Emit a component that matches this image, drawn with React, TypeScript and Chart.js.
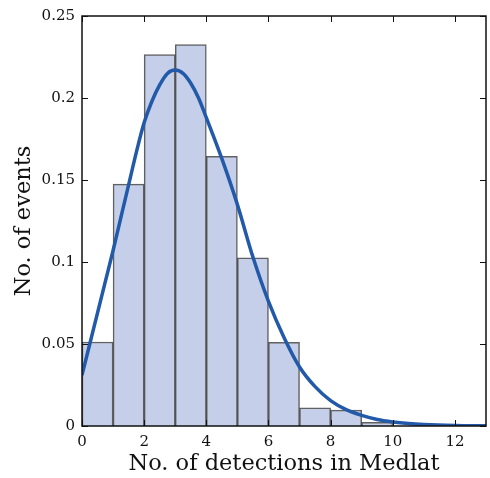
import React, { useEffect, useRef } from "react";
import { Chart, registerables } from "chart.js";

Chart.register(...registerables);

// Histogram bins (left edges) and normalized counts
const binStarts = [0, 1, 2, 3, 4, 5, 6, 7, 8, 9, 10, 11, 12];
const binValues = [0.0512, 0.1475, 0.2265, 0.2326, 0.1644, 0.1025, 0.0510, 0.0111, 0.0097, 0.0022, 0, 0, 0];

// Fitted curve
const curveX = [0, 0.25, 0.5, 0.75, 1, 1.25, 1.5, 1.75, 2, 2.25, 2.5, 2.75, 3, 3.25, 3.5, 3.75, 4, 4.5, 5, 5.5, 6, 6.5, 7, 7.5, 8, 8.5, 9, 9.5, 10, 10.5, 11, 12, 13];
const curveY = [0.031, 0.05, 0.069, 0.088, 0.107, 0.127, 0.147, 0.167, 0.185, 0.198, 0.208, 0.215, 0.217, 0.215, 0.209, 0.2, 0.188, 0.163, 0.135, 0.103, 0.076, 0.054, 0.036, 0.024, 0.0155, 0.01, 0.0065, 0.004, 0.0025, 0.0015, 0.0009, 0.0003, 0.0001];

const xTicks = [0, 2, 4, 6, 8, 10, 12];
const yTicks = [0, 0.05, 0.1, 0.15, 0.2, 0.25];

const FONT = "'DejaVu Serif', serif";

const frameTicks = {
  id: "frameTicks",
  afterDraw(chart: any) {
    const { ctx, chartArea: a, scales } = chart;
    ctx.save();
    ctx.strokeStyle = "#111";
    ctx.lineWidth = 1.5;
    ctx.strokeRect(a.left, a.top, a.right - a.left, a.bottom - a.top);
    ctx.lineWidth = 1;
    const L = 6;
    ctx.beginPath();
    for (const v of xTicks) {
      const px = Math.round(scales.x.getPixelForValue(v)) + 0.5;
      ctx.moveTo(px, a.bottom);
      ctx.lineTo(px, a.bottom - L);
      ctx.moveTo(px, a.top);
      ctx.lineTo(px, a.top + L);
    }
    for (const v of yTicks) {
      const py = Math.round(scales.y.getPixelForValue(v)) + 0.5;
      ctx.moveTo(a.left, py);
      ctx.lineTo(a.left + L, py);
      ctx.moveTo(a.right, py);
      ctx.lineTo(a.right - L, py);
    }
    ctx.stroke();
    ctx.restore();
  },
};

export default function App() {
  const ref = useRef<HTMLCanvasElement | null>(null);
  useEffect(() => {
    if (!ref.current) return;
    const chart = new Chart(ref.current, {
      type: "bar",
      data: {
        datasets: [
          {
            type: "line",
            data: curveX.map((x, i) => ({ x, y: curveY[i] })),
            borderColor: "#2259a8",
            borderWidth: 3.5,
            pointRadius: 0,
            cubicInterpolationMode: "monotone",
            fill: false,
            order: 0,
          } as any,
          {
            type: "bar",
            data: binStarts.map((x, i) => ({ x: x + 0.5, y: binValues[i] })),
            backgroundColor: "rgba(197,207,234,1)",
            borderColor: "rgba(30,30,30,0.7)",
            borderWidth: 1.5,
            barPercentage: 1,
            categoryPercentage: 1,
            order: 1,
          } as any,
        ],
      },
      plugins: [frameTicks],
      options: {
        animation: false,
        responsive: false,
        layout: { padding: { top: 14, right: 4, left: 0, bottom: 0 } },
        plugins: { legend: { display: false }, tooltip: { enabled: false } },
        scales: {
          x: {
            type: "linear",
            min: 0,
            max: 13,
            offset: false,
            afterBuildTicks: (s: any) => {
              s.ticks = xTicks.map((v) => ({ value: v }));
            },
            afterFit: (s: any) => {
              s.height = 52;
            },
            grid: { display: false, drawTicks: false, offset: false },
            border: { display: false },
            ticks: {
              color: "#111",
              padding: 7,
              font: { family: FONT, size: 15 },
              maxRotation: 0,
            },
            title: {
              display: true,
              text: "No. of detections in Medlat",
              color: "#111",
              font: { family: FONT, size: 22.5 },
              padding: { top: 0, bottom: 0 },
            },
          },
          y: {
            min: 0,
            max: 0.25,
            afterBuildTicks: (s: any) => {
              s.ticks = yTicks.map((v) => ({ value: v }));
            },
            afterFit: (s: any) => {
              s.width = 82;
            },
            grid: { display: false, drawTicks: false },
            border: { display: false },
            ticks: {
              color: "#111",
              padding: 7,
              font: { family: FONT, size: 15 },
              callback: (v: any) => String(Number(v)),
            },
            title: {
              display: true,
              text: "No. of events",
              color: "#111",
              font: { family: FONT, size: 22.5 },
              padding: { top: 11, bottom: 0 },
            },
          },
        },
      },
    });
    return () => chart.destroy();
  }, []);
  return (
    <div style={{ position: "fixed", left: 0, top: 0, width: 490, height: 478, background: "#fff" }}>
      <canvas ref={ref} width={490} height={478} style={{ width: 490, height: 478 }} />
    </div>
  );
}
